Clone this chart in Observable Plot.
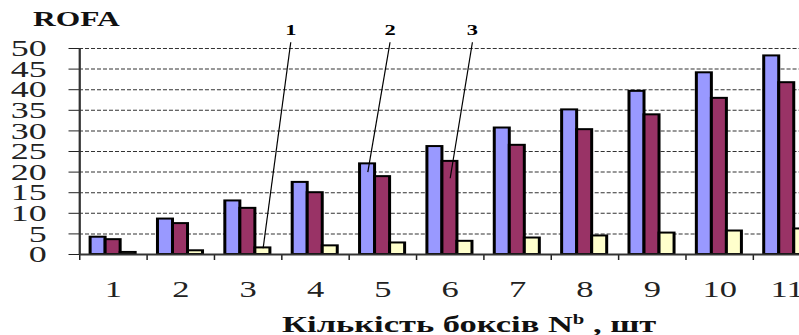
<!DOCTYPE html>
<html>
<head>
<meta charset="utf-8">
<script src="https://cdn.jsdelivr.net/npm/d3@7"></script>
<script src="https://cdn.jsdelivr.net/npm/@observablehq/plot@0.6"></script>
<style>
  html, body { margin: 0; padding: 0; background: #fff; overflow: hidden; }
  #wrap { position: relative; width: 533px; height: 335px; transform: scaleX(1.499); transform-origin: 0 0; }
  #chart { position: absolute; left: 0; top: 0; }
  #ytitle { position: absolute; left: 22px; top: 9px; font: bold 21px "Liberation Serif", serif; line-height: 21px; color: #111; }
  #xtitle { position: absolute; left: 163px; width: 300px; top: 313px; text-align: center; font: bold 23px "Liberation Serif", serif; line-height: 23px; color: #111; white-space: nowrap; }
  #xtitle sup { font-size: 0.6em; vertical-align: 0.55em; line-height: 0; }
</style>
</head>
<body>
<div id="wrap">
  <div id="chart"></div>
  <div id="ytitle"></div>
  <div id="xtitle"></div>
</div>
<script>
// ---- data ----
const categories = [1, 2, 3, 4, 5, 6, 7, 8, 9, 10, 11];
const series1 = [4.2, 8.6, 13.0, 17.5, 22.0, 26.2, 30.7, 35.1, 39.6, 44.1, 48.2];
const series2 = [3.6, 7.5, 11.2, 15.0, 18.9, 22.6, 26.5, 30.3, 33.9, 37.9, 41.7];
const series3 = [0.5, 0.9, 1.6, 2.1, 2.8, 3.2, 4.0, 4.5, 5.2, 5.7, 6.2];
const yTicks = [0, 5, 10, 15, 20, 25, 30, 35, 40, 45, 50];
const annoLabels = ["1", "2", "3"];
const annoCategory = [3, 5, 6];
const annoSeries = [2, 0, 1];
const annoTipValue = [1.5, 20, 18.5];
const yTitle = "ROFA";
const xTitleMain = "Кількість боксів N";
const xTitleSup = "b";
const xTitleTail = " , шт";

// ---- styles ----
const colors = ["#9999FF", "#993366", "#FFFFCC"];
const groupOffset = 0.165, barW = 0.223;

const allSeries = [series1, series2, series3];
const rows = categories.flatMap((c, i) => allSeries.map((s, j) => ({cat: c, series: j, value: s[i]})));
const xLeft = d => d.cat - 1 + groupOffset + d.series * barW;

const annos = annoLabels.map((l, i) => ({
  label: l,
  xBar: annoCategory[i] - 1 + groupOffset + (annoSeries[i] + 0.5) * barW,
  tip: annoTipValue[i],
  shift: i === 0 ? 0.41 : 0.33
}));

document.getElementById("ytitle").textContent = yTitle;
const xt = document.getElementById("xtitle");
xt.appendChild(document.createTextNode(xTitleMain));
const sup = document.createElement("sup"); sup.textContent = xTitleSup; xt.appendChild(sup);
xt.appendChild(document.createTextNode(xTitleTail));

const chart = Plot.plot({
  width: 533,
  height: 335,
  marginLeft: 52.7,
  marginRight: 0,
  marginTop: 48,
  marginBottom: 81,
  style: {fontFamily: "'Liberation Serif', serif", fontSize: "24px", color: "#222", background: "transparent", overflow: "visible"},
  x: {domain: [0, 11], range: [52.7, 547], ticks: d3.range(0, 12), tickSize: 6, tickFormat: () => "", label: null},
  y: {domain: [0, 50], ticks: yTicks, tickSize: 7, tickPadding: 15, label: null},
  marks: [
    Plot.ruleY(yTicks.filter(t => t > 0), {stroke: "#333", strokeWidth: 1, strokeDasharray: "2.7,1.3"}),
    ...[0, 1, 2].map(j => Plot.rectY(rows.filter(d => d.series === j), {
      x1: xLeft, x2: d => xLeft(d) + barW, y1: d => 0, y2: "value",
      fill: colors[j], stroke: "#000", strokeWidth: 2
    })),
    Plot.ruleY([0], {stroke: "#333", strokeWidth: 2}),
    Plot.ruleX([0], {y1: 0, y2: 50, stroke: "#333", strokeWidth: 1.5}),
    Plot.text(categories, {x: d => d - 0.5, y: d => 0, dy: 35, text: d => String(d), fontSize: 23, fill: "#222"}),
    Plot.link(annos, {x1: d => d.xBar + d.shift, y1: d => 51.5, x2: "xBar", y2: "tip", stroke: "#000", strokeWidth: 0.8}),
    Plot.text(annos, {x: d => d.xBar + d.shift, y: d => 54.4, text: "label", fontSize: 15, fontWeight: "bold", fill: "#000"})
  ]
});
document.getElementById("chart").appendChild(chart);
</script>
</body>
</html>
